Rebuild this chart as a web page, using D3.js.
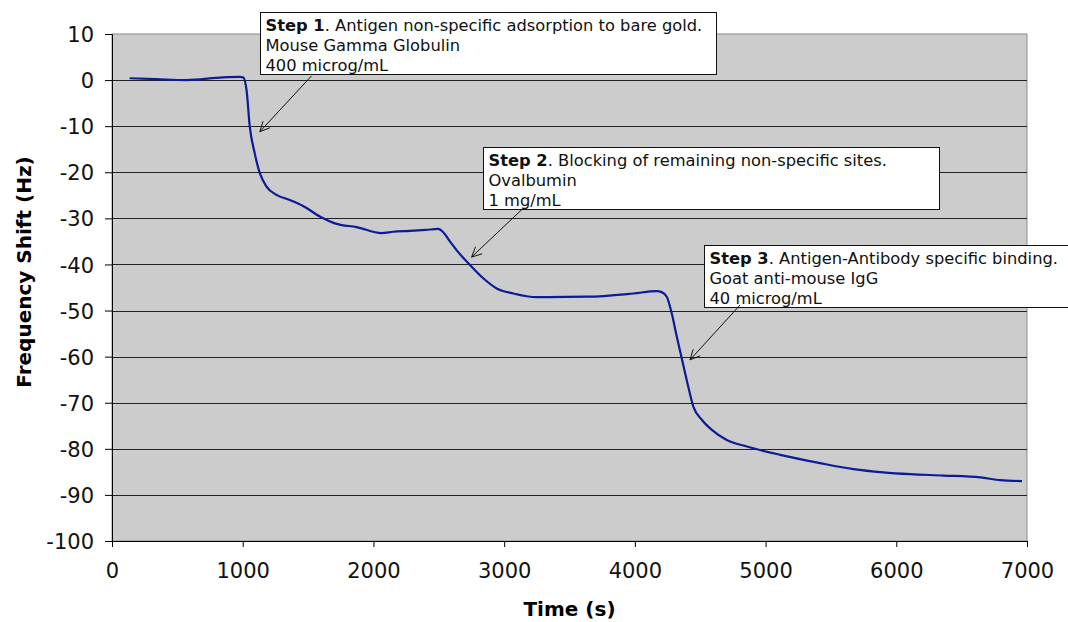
<!DOCTYPE html>
<html>
<head>
<meta charset="utf-8">
<script src="https://cdn.jsdelivr.net/npm/d3@7"></script>
<style>
  body { margin: 0; background: #fff; }
  svg { display: block; font-family: "DejaVu Sans", Verdana, sans-serif; }
</style>
</head>
<body>
<div id="chart"></div>
<script>
// frequency shift vs time
var times = [135, 340, 570, 850, 978, 1003, 1029, 1054, 1092, 1131, 1182, 1258, 1360, 1462,
  1590, 1718, 1871, 2062, 2151, 2279, 2400, 2496, 2534, 2585, 2636, 2738, 2840, 2943, 3070,
  3249, 3632, 3988, 4167, 4205, 4244, 4282, 4321, 4359, 4397, 4448, 4512, 4589, 4703, 4857,
  5111, 5418, 5673, 5900, 6107, 6362, 6643, 6796, 6962];
var shifts = [0.4, 0.2, 0.0, 0.6, 0.7, 0.6, -2.1, -10.1, -15.9, -20.2, -23.1, -24.9, -26.0, -27.3,
  -29.6, -31.2, -31.9, -33.2, -32.9, -32.7, -32.5, -32.3, -33.0, -35.0, -36.9, -40.1, -43.0, -45.2, -46.3,
  -47.1, -47.0, -46.3, -45.8, -46.0, -47.0, -50.6, -55.7, -60.4, -65.1, -70.9, -73.7, -75.9, -78.1, -79.5,
  -81.3, -83.1, -84.4, -85.1, -85.5, -85.8, -86.2, -86.8, -87.0];

var xTicks = [0, 1000, 2000, 3000, 4000, 5000, 6000, 7000];
var yTicks = [10, 0, -10, -20, -30, -40, -50, -60, -70, -80, -90, -100];

// annotation boxes: top-left corner, arrow start and tip, all in data units
var noteBold = ["Step 1", "Step 2", "Step 3"];
var noteHead = [". Antigen non-specific adsorption to bare gold.",
                ". Blocking of remaining non-specific sites.",
                ". Antigen-Antibody specific binding."];
var noteLine2 = ["Mouse Gamma Globulin", "Ovalbumin", "Goat anti-mouse IgG"];
var noteLine3 = ["400 microg/mL", "1 mg/mL", "40 microg/mL"];
var noteBox = [[1136, 14.7], [2840, -14.6], [4530, -35.7]];
var arrowFrom = [[1526, 0.9], [3146, -27.8], [4805, -48.8]];
var arrowTo = [[1131, -11.2], [2751, -38.4], [4422, -60.7]];

var width = 1068, height = 622;
var margin = {t: 34, r: 41, b: 81, l: 112};

var svg = d3.select("#chart").append("svg")
    .attr("width", width)
    .attr("height", height);

var x = d3.scaleLinear().domain([0, 7000]).range([margin.l, width - margin.r]);
var y = d3.scaleLinear().domain([-100, 10]).range([height - margin.b, margin.t]);

// plot background
svg.append("rect")
    .attr("x", x(0))
    .attr("y", y(10))
    .attr("width", x(7000) - x(0))
    .attr("height", y(-100) - y(10))
    .style("fill", "#cccccc")
    .style("stroke", "#8c8c8c")
    .style("stroke-width", 1);

// grid lines
svg.append("g")
    .selectAll("line")
    .data(yTicks.filter(function(d){ return d > -100 && d < 10; }))
    .enter().append("line")
    .attr("x1", x(0))
    .attr("x2", x(7000))
    .attr("y1", function(d){ return Math.round(y(d)) + 0.5; })
    .attr("y2", function(d){ return Math.round(y(d)) + 0.5; })
    .style("stroke", "#222")
    .style("stroke-width", 1);

// axes (plain hyphen for negatives, like the original)
var plain = function(d){ return String(d); };
var yAxis = svg.append("g")
    .attr("transform", "translate(" + x(0) + ",0)")
    .call(d3.axisLeft(y).tickValues(yTicks).tickSize(7).tickPadding(11).tickFormat(plain));

var xAxis = svg.append("g")
    .attr("transform", "translate(0," + y(-100) + ")")
    .call(d3.axisBottom(x).tickValues(xTicks).tickSize(6).tickPadding(16).tickFormat(plain));

[xAxis, yAxis].forEach(function(a){
    a.select(".domain").style("stroke", "#000");
    a.selectAll(".tick line").style("stroke", "#000");
    a.selectAll("text")
        .style("font-family", "'DejaVu Sans', Verdana, sans-serif")
        .style("font-size", "21px")
        .style("fill", "#111");
});
yAxis.selectAll("text").attr("dy", "0.36em");

// axis titles
svg.append("text")
    .attr("x", (x(0) + x(7000)) / 2)
    .attr("y", 616)
    .attr("text-anchor", "middle")
    .style("font-size", "20px")
    .style("font-weight", "bold")
    .text("Time (s)");

svg.append("text")
    .attr("transform", "translate(31,272) rotate(-90)")
    .attr("text-anchor", "middle")
    .style("font-size", "20px")
    .style("font-weight", "bold")
    .text("Frequency Shift (Hz)");

// the curve
var points = times.map(function(t, i){ return [t, shifts[i]]; });
var line = d3.line()
    .x(function(d){ return x(d[0]); })
    .y(function(d){ return y(d[1]); })
    .curve(d3.curveMonotoneX);

svg.append("path")
    .datum(points)
    .attr("d", line)
    .style("fill", "none")
    .style("stroke", "#0a1c98")
    .style("stroke-width", 2.2);

// annotations
var boxW = 456, boxH = 62;
noteBold.forEach(function(b, i){
    var bx = Math.round(x(noteBox[i][0])) + 0.5,
        by = Math.round(y(noteBox[i][1])) + 0.5;
    var g = svg.append("g").attr("transform", "translate(" + bx + "," + by + ")");
    g.append("rect")
        .attr("width", boxW)
        .attr("height", boxH)
        .style("fill", "#fff")
        .style("stroke", "#111")
        .style("stroke-width", 1);
    var t = g.append("text")
        .attr("x", 5)
        .attr("y", 18)
        .style("font-size", "16.3px")
        .style("fill", "#111");
    t.append("tspan").style("font-weight", "bold").text(b);
    t.append("tspan").text(noteHead[i]);
    g.append("text").attr("x", 5).attr("y", 38).style("font-size", "16.3px").style("fill", "#111").text(noteLine2[i]);
    g.append("text").attr("x", 5).attr("y", 58).style("font-size", "16.3px").style("fill", "#111").text(noteLine3[i]);

    // arrow with open head
    var x1 = x(arrowFrom[i][0]), y1 = y(arrowFrom[i][1]),
        x2 = x(arrowTo[i][0]), y2 = y(arrowTo[i][1]);
    svg.append("line")
        .attr("x1", x1).attr("y1", y1)
        .attr("x2", x2).attr("y2", y2)
        .style("stroke", "#111")
        .style("stroke-width", 1);
    var ang = Math.atan2(y1 - y2, x1 - x2), len = 11, spread = 0.45;
    svg.append("path")
        .attr("d", "M" + (x2 + len * Math.cos(ang - spread)) + "," + (y2 + len * Math.sin(ang - spread)) +
                   "L" + x2 + "," + y2 +
                   "L" + (x2 + len * Math.cos(ang + spread)) + "," + (y2 + len * Math.sin(ang + spread)))
        .style("fill", "none")
        .style("stroke", "#111")
        .style("stroke-width", 1);
});
</script>
</body>
</html>
